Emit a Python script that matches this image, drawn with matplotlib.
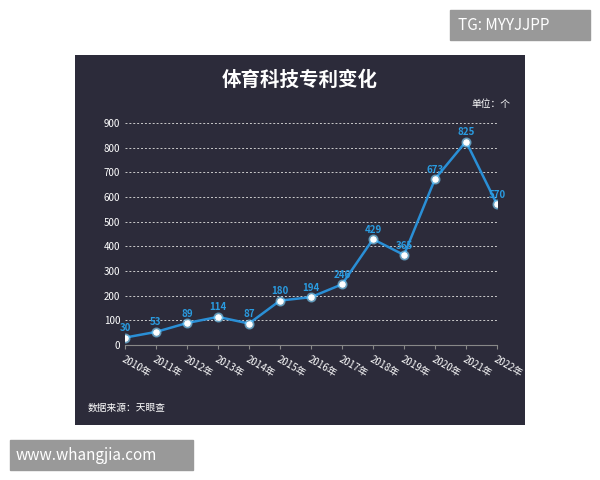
import matplotlib
matplotlib.use("Agg")
import matplotlib.pyplot as plt

plt.rcParams['font.family'] = ['Noto Sans CJK SC', 'DejaVu Sans']

years = ["2010年","2011年","2012年","2013年","2014年","2015年","2016年","2017年","2018年","2019年","2020年","2021年","2022年"]
values = [30, 53, 89, 114, 87, 180, 194, 246, 429, 365, 673, 825, 570]
yticks = [0,100,200,300,400,500,600,700,800,900]

bg = '#2c2b3a'
fig = plt.figure(figsize=(6, 4.8), dpi=100)
fig.patch.set_facecolor('white')
panel = fig.add_axes([75/600, 1-425/480, 450/600, 370/480])
panel.set_facecolor(bg); panel.set_xticks([]); panel.set_yticks([])
for s in panel.spines.values(): s.set_visible(False)

ax = fig.add_axes([125/600, 1-345/480, 372/600, 222/480])
ax.set_facecolor(bg)
x = list(range(len(values)))
ax.plot(x, values, color='#2a8fd6', lw=1.8, zorder=2)
ax.scatter(x, values, s=40, color='#7fd6ff', alpha=0.5, zorder=3)
ax.scatter(x, values, s=14, color='white', zorder=4)
for xi, v in zip(x, values):
    ax.text(xi, v + 18, str(v), color='#2a9be0', fontsize=7, fontweight='bold', ha='center', va='bottom')
ax.set_xlim(0, len(values) - 1)
ax.set_ylim(0, 900)
ax.set_yticks(yticks)
ax.set_yticklabels([str(t) for t in yticks], color='white', fontsize=7)
ax.set_xticks(x)
ax.set_xticklabels(years, rotation=-30, ha='left', rotation_mode='anchor', color='white', fontsize=7)
ax.grid(axis='y', color='#cccccc', ls=(0, (2, 2)), lw=0.7)
ax.tick_params(axis='y', length=0)
ax.tick_params(axis='x', colors='#888888', length=3)
for t in ax.get_xticklabels(): t.set_color('white')
for s in ['top', 'right', 'left']: ax.spines[s].set_visible(False)
ax.spines['bottom'].set_color('#888888')

fig.text(300/600, 1-80/480, '体育科技专利变化', color='white', fontsize=14, fontweight='bold', ha='center', va='center')
fig.text(510/600, 1-104/480, '单位：个', color='white', fontsize=7, ha='right', va='center')
fig.text(88/600, 1-408/480, '数据来源：天眼查', color='white', fontsize=7, ha='left', va='center')

fig.patches.append(plt.Rectangle((450/600, 1-40/480), 140/600, 30/480, transform=fig.transFigure, color='#999999'))
fig.text(458/600, 1-25/480, 'TG: MYYJJPP', color='white', fontsize=11, va='center')
fig.patches.append(plt.Rectangle((10/600, 1-470/480), 183/600, 30/480, transform=fig.transFigure, color='#999999'))
fig.text(16/600, 1-455/480, 'www.whangjia.com', color='white', fontsize=11, va='center')

fig.savefig('out.png', dpi=100)
